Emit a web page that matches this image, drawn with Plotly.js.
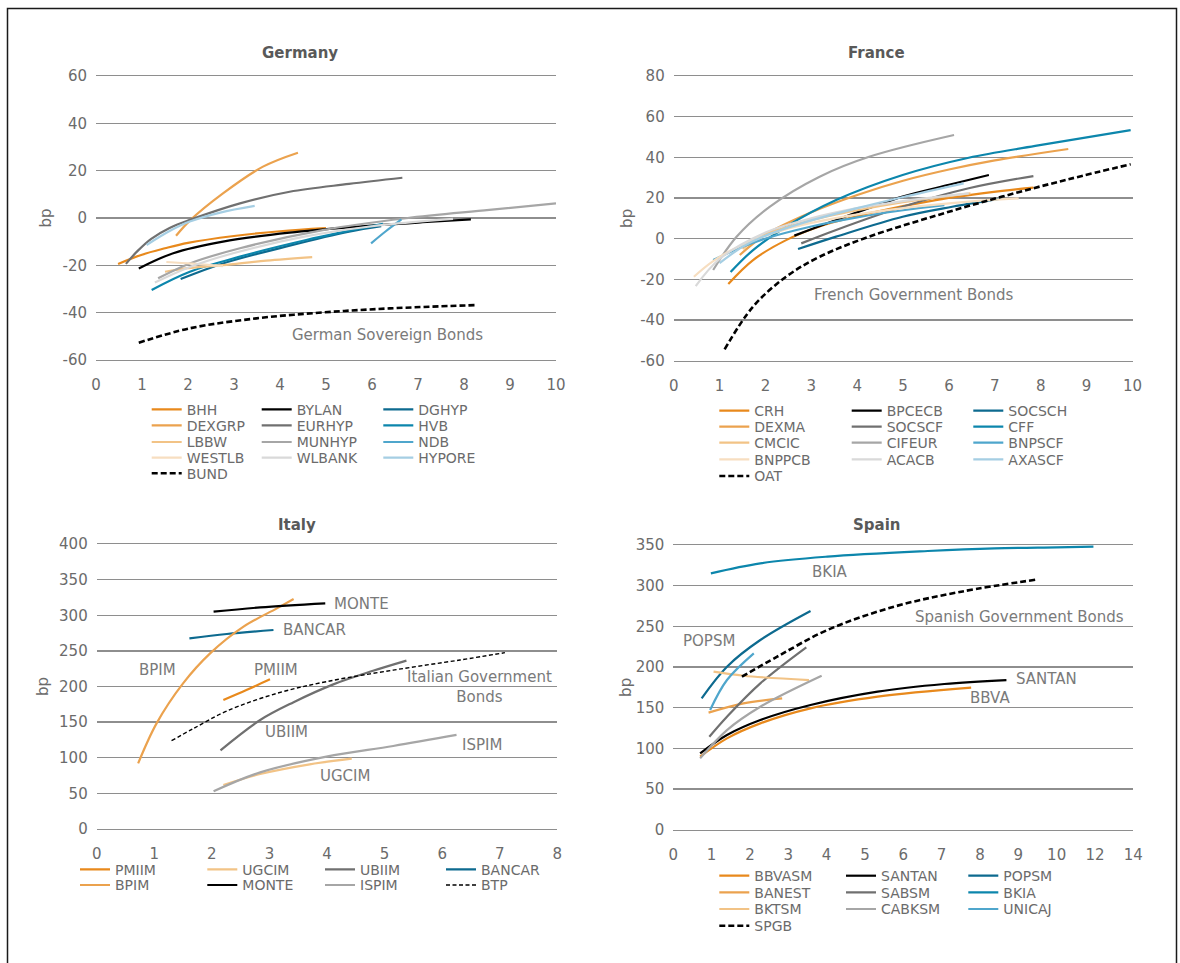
<!DOCTYPE html>
<html>
<head>
<meta charset="utf-8">
<script src="https://cdn.plot.ly/plotly-3.0.1.min.js"></script>
<style>
  html, body { margin: 0; padding: 0; background: #ffffff; }
  #chart { width: 1180px; height: 963px; }
</style>
</head>
<body>
<div id="chart"></div>
<script>
// ---------------- DATA ----------------
// Germany (x: maturity in years, y: spread in bp)
const germanyNames = ['BHH','BYLAN','DGHYP','DEXGRP','EURHYP','HVB','LBBW','MUNHYP','NDB','WESTLB','WLBANK','HYPORE','BUND'];
const germanyX = [
  [0.48, 1.0, 1.5, 2.0, 3.0, 4.0, 5.0],
  [0.93, 1.68, 2.76, 4.21, 5.66, 7.1, 8.15],
  [1.84, 2.76, 4.21, 5.5, 6.2],
  [1.74, 2.04, 2.76, 3.63, 4.39],
  [0.65, 0.9, 1.2, 1.6, 2.04, 3.13, 4.21, 5.5, 6.66],
  [1.21, 2.04, 3.13, 4.57, 6.24],
  [1.5, 2.0, 2.76, 3.7, 4.7],
  [1.35, 2.04, 3.13, 4.93, 6.74, 8.55, 10.0],
  [5.98, 6.3, 6.64],
  [1.53, 2.1, 2.76],
  [1.28, 2.0, 3.0, 4.5, 6.0, 7.76],
  [1.10, 1.6, 2.04, 2.7, 3.45],
  [0.93, 2.04, 3.49, 4.93, 6.38, 8.26]
];
const germanyY = [
  [-19.4, -15.5, -12.8, -10.5, -7.6, -5.6, -4.3],
  [-21.3, -14.9, -10.0, -6.2, -3.7, -1.8, -0.6],
  [-25.8, -19.2, -11.7, -5.8, -3.5],
  [-7.5, -1.1, 10.4, 21.7, 27.6],
  [-19.4, -14.0, -8.8, -4.2, -0.8, 6.2, 11.1, 14.4, 17.0],
  [-30.4, -22.7, -16.3, -9.3, -2.5],
  [-22.7, -21.2, -19.9, -18.0, -16.5],
  [-25.5, -19.2, -12.8, -5.1, -0.1, 3.4, 6.2],
  [-10.7, -5.6, -0.6],
  [-18.6, -19.3, -20.3],
  [-27.3, -21.0, -14.8, -8.0, -3.5, -0.4],
  [-11.4, -5.5, -1.5, 2.3, 5.1],
  [-52.7, -46.6, -42.4, -39.9, -38.2, -36.8]
];
const germanyTicksY = [-60, -40, -20, 0, 20, 40, 60];
const germanyTicksX = [0, 1, 2, 3, 4, 5, 6, 7, 8, 9, 10];

// France
const franceNames = ['CRH','BPCECB','SOCSCH','DEXMA','SOCSCF','CFF','CMCIC','CIFEUR','BNPSCF','BNPPCB','ACACB','AXASCF','OAT'];
const franceX = [
  [1.19, 1.73, 2.45, 3.18, 4.26, 5.71, 7.16, 7.84],
  [2.63, 3.54, 4.99, 6.0, 6.87],
  [2.71, 3.54, 4.99, 6.07, 7.16],
  [1.44, 2.0, 3.0, 4.0, 5.0, 6.0, 7.0, 8.6],
  [2.78, 3.54, 4.99, 6.43, 7.84],
  [1.24, 1.73, 2.45, 3.54, 4.99, 6.43, 7.88, 9.96],
  [1.5, 2.0, 3.0, 4.0, 5.0, 6.47],
  [0.86, 1.37, 2.09, 3.18, 4.26, 6.11],
  [0.86, 1.5, 2.02, 3.0, 4.0, 5.0, 5.9],
  [0.44, 0.86, 1.5, 2.5, 3.5, 5.0, 6.5, 7.52],
  [0.48, 1.0, 2.0, 3.0, 4.0, 5.0, 6.43],
  [1.0, 1.5, 2.0, 3.0, 4.0, 5.0, 6.32],
  [1.11, 1.73, 2.45, 3.18, 4.26, 5.71, 7.16, 8.6, 9.96]
];
const franceY = [
  [-22.3, -10.5, -0.7, 6.0, 12.5, 19.0, 23.5, 25.1],
  [1.5, 9.2, 20.7, 26.5, 31.3],
  [-5.1, 1.0, 10.8, 15.7, 19.8],
  [-8.0, 2.0, 13.0, 21.5, 28.5, 34.0, 38.5, 44.1],
  [-2.3, 4.3, 15.7, 24.8, 30.8],
  [-16.4, -5.6, 5.9, 19.0, 31.3, 39.8, 45.6, 53.4],
  [-5.0, 2.0, 9.0, 14.0, 18.0, 22.3],
  [-15.4, 1.0, 15.7, 30.5, 40.3, 51.0],
  [-10.5, -4.0, 0.2, 6.0, 10.5, 14.0, 16.5],
  [-18.7, -11.0, -3.0, 5.0, 10.0, 15.0, 18.3, 19.8],
  [-23.3, -10.0, 3.0, 10.0, 15.0, 18.5, 22.3],
  [-12.0, -4.0, 1.5, 9.0, 15.0, 20.5, 27.2],
  [-54.4, -33.4, -18.7, -8.9, 1.0, 11.3, 20.7, 29.2, 36.6]
];
const franceTicksY = [-60, -40, -20, 0, 20, 40, 60, 80];
const franceTicksX = [0, 1, 2, 3, 4, 5, 6, 7, 8, 9, 10];

// Italy
const italyNames = ['PMIIM','UGCIM','UBIIM','BANCAR','BPIM','MONTE','ISPIM','BTP'];
const italyX = [
  [2.2, 2.6, 3.01],
  [2.2, 2.84, 3.7, 4.43],
  [2.15, 2.84, 3.42, 4.11, 4.8, 5.38],
  [1.61, 2.26, 3.07],
  [0.72, 1.04, 1.5, 1.97, 2.55, 3.13, 3.42],
  [2.03, 2.84, 3.97],
  [2.03, 2.84, 3.99, 5.15, 6.25],
  [1.3, 1.68, 2.26, 3.13, 3.99, 5.15, 6.31, 7.09]
];
const italyY = [
  [181, 195, 210],
  [61.8, 77.2, 90.8, 98.7],
  [110.4, 153, 178, 203, 222, 236.3],
  [267.6, 273.7, 279.3],
  [92.2, 148.3, 204.4, 246.5, 284, 309.7, 322.8],
  [305, 311, 316.7],
  [52.9, 79.5, 101.5, 116.5, 132],
  [124, 141, 165.6, 190.4, 206.8, 223, 237.2, 247.5]
];
const italyTicksY = [0, 50, 100, 150, 200, 250, 300, 350, 400];
const italyTicksX = [0, 1, 2, 3, 4, 5, 6, 7, 8];

// Spain (x: maturity in years; the axis shows 0..10 then 12, 14 at equal steps)
const spainNames = ['BBVASM','SANTAN','POPSM','BANEST','SABSM','BKIA','BKTSM','CABKSM','UNICAJ','SPGB'];
const spainX = [
  [0.70, 1.40, 2.27, 3.58, 5.33, 7.77],
  [0.70, 1.40, 2.27, 3.58, 5.33, 7.07, 8.69],
  [0.74, 1.40, 2.27, 3.58],
  [0.92, 1.83, 2.84],
  [0.94, 1.40, 2.27, 3.47],
  [0.98, 2.27, 4.02, 6.64, 8.38, 10.0, 11.92],
  [1.05, 1.83, 3.54],
  [0.70, 1.40, 2.27, 3.87],
  [0.96, 1.40, 2.10],
  [1.79, 2.71, 4.02, 5.76, 7.51, 9.52]
];
const spainY = [
  [89.8, 112.3, 130.7, 149.2, 163.5, 174.6],
  [93.9, 116.4, 134.8, 153.3, 169.7, 179.1, 184],
  [161.5, 200.4, 233.2, 268.9],
  [143.9, 155.3, 161.5],
  [114.3, 138.9, 179.9, 224.2],
  [315.2, 327.5, 335.7, 342.6, 345.9, 347.2, 348],
  [194.3, 189.3, 184],
  [87.7, 122.5, 151.2, 189.3],
  [147.1, 184, 216.8],
  [188.1, 212.7, 245.5, 274.2, 292.6, 307.8]
];
const spainTicksY = [0, 50, 100, 150, 200, 250, 300, 350];
const spainTickLabelsX = ['0','1','2','3','4','5','6','7','8','9','10','12','14'];

// Text labels on the charts
const germanyLabels = ['German Sovereign Bonds'];
const franceLabels = ['French Government Bonds'];
const italyLabels = ['MONTE','BANCAR','BPIM','PMIIM','Italian Government<br>Bonds','UBIIM','ISPIM','UGCIM'];
const spainLabels = ['BKIA','Spanish Government Bonds','POPSM','SANTAN','BBVA'];

// ---------------- STYLES ----------------
const C = {
  o1: '#E8891C', o2: '#EBA24E', o3: '#F2C386', o4: '#F7DEC0',
  k: '#000000', g1: '#707070', g2: '#A6A6A6', g3: '#D9D9D9',
  b1: '#0D6A8F', b2: '#0C86AC', b3: '#4FA6CC', b4: '#A5CEE3'
};
const germanyColors = [C.o1, C.k, C.b1, C.o2, C.g1, C.b2, C.o3, C.g2, C.b3, C.o4, C.g3, C.b4, C.k];
const germanyDash   = [0,0,0,0,0,0,0,0,0,0,0,0,1];
const franceColors  = [C.o1, C.k, C.b1, C.o2, C.g1, C.b2, C.o3, C.g2, C.b3, C.o4, C.g3, C.b4, C.k];
const franceDash    = [0,0,0,0,0,0,0,0,0,0,0,0,1];
const italyColors   = [C.o1, C.o3, C.g1, C.b1, C.o2, C.k, C.g2, C.k];
const italyDash     = [0,0,0,0,0,0,0,2];
const spainColors   = [C.o1, C.k, C.b1, C.o2, C.g1, C.b2, C.o3, C.g2, C.b3, C.k];
const spainDash     = [0,0,0,0,0,0,0,0,0,1];

const W = 1180, H = 963;
const FONT = 'DejaVu Sans, Verdana, sans-serif';
const TXT = '#6b6b6b';
const GRID = '#8e8e8e';
const LEGFS = 14;

function px2x(p) { return p / W; }
function py2y(p) { return 1 - p / H; }
function spainPos(v) { return v <= 10 ? v : 10 + (v - 10) / 2; }

// panel geometry (pixels)
const panels = [
  { key: 'germany', names: germanyNames, X: germanyX, Y: germanyY, colors: germanyColors, dash: germanyDash,
    xa: 'x', ya: 'y', xd: [96, 556], yd: [76, 360], xr: [0, 10], yr: [-60, 60], yt: germanyTicksY, xt: germanyTicksX,
    title: 'Germany', titlePos: [300, 53], standoff: 7,
    legCols: [186.7, 296.7, 418.3], legRows: [409.3, 425.3, 442, 457.7, 473.3], ncol: 3 },
  { key: 'france', names: franceNames, X: franceX, Y: franceY, colors: franceColors, dash: franceDash,
    xa: 'x2', ya: 'y2', xd: [673.7, 1132.5], yd: [76, 360.7], xr: [0, 10], yr: [-60, 80], yt: franceTicksY, xt: franceTicksX,
    title: 'France', titlePos: [876, 53], standoff: 3,
    legCols: [754.3, 886.7, 1008.3], legRows: [410.7, 426.7, 442.7, 459.3, 476], ncol: 3 },
  { key: 'italy', names: italyNames, X: italyX, Y: italyY, colors: italyColors, dash: italyDash,
    xa: 'x3', ya: 'y3', xd: [96.7, 557.3], yd: [544, 829], xr: [0, 8], yr: [0, 400], yt: italyTicksY, xt: italyTicksX,
    title: 'Italy', titlePos: [297, 525], standoff: 6,
    legCols: [115, 242.3, 360, 481], legRows: [869.3, 885], ncol: 4 },
  { key: 'spain', names: spainNames, X: spainX.map(a => a.map(spainPos)), Y: spainY, colors: spainColors, dash: spainDash,
    xa: 'x4', ya: 'y4', xd: [673.3, 1133.3], yd: [545, 829.7], xr: [0, 12], yr: [0, 350], yt: spainTicksY,
    xt: spainTickLabelsX.map((t, i) => i), xtt: spainTickLabelsX,
    title: 'Spain', titlePos: [876, 525], standoff: 0,
    legCols: [754.3, 881, 1003.3], legRows: [875.7, 892.3, 909, 925.7], ncol: 3 }
];

const dashStyles = ['solid', '6px,3px', '4px,2.5px'];
const traces = [];
const layout = {
  width: W, height: H, autosize: false,
  margin: { l: 0, r: 0, t: 0, b: 0 },
  paper_bgcolor: '#ffffff', plot_bgcolor: 'rgba(0,0,0,0)',
  font: { family: FONT, size: 15, color: TXT },
  showlegend: true,
  annotations: [],
  shapes: [{
    type: 'rect', xref: 'paper', yref: 'paper',
    x0: px2x(7.5), x1: px2x(1176.5), y0: py2y(1000), y1: py2y(8.5),
    line: { color: '#1a1a1a', width: 1.5 }, fillcolor: 'rgba(0,0,0,0)', layer: 'above'
  }]
};

const legItemOffset = (Math.max(1.3 * LEGFS, 16) + 3) / 2 + 5;
let legendCount = 0;
panels.forEach(p => {
  const xName = p.xa === 'x' ? 'xaxis' : 'xaxis' + p.xa.slice(1);
  const yName = p.ya === 'y' ? 'yaxis' : 'yaxis' + p.ya.slice(1);
  layout[xName] = {
    domain: [px2x(p.xd[0]), px2x(p.xd[1])], range: p.xr, anchor: p.ya,
    showgrid: false, zeroline: false,
    showline: true, mirror: true, linecolor: GRID, linewidth: 1.3,
    ticks: '',
    tickmode: 'array', tickvals: p.xt, ticktext: p.xtt || p.xt.map(String),
    tickfont: { family: FONT, size: 15, color: TXT }, ticklabelstandoff: 11, fixedrange: true
  };
  layout[yName] = {
    domain: [py2y(p.yd[1]), py2y(p.yd[0])], range: p.yr, anchor: p.xa,
    showgrid: true, gridcolor: GRID, gridwidth: 1.3, zeroline: false, showline: false, ticks: '',
    tickmode: 'array', tickvals: p.yt, ticktext: p.yt.map(String),
    tickfont: { family: FONT, size: 15, color: TXT }, ticklabelstandoff: 8, fixedrange: true,
    title: { text: 'bp', font: { family: FONT, size: 15, color: TXT }, standoff: p.standoff }
  };
  layout.annotations.push({
    xref: 'paper', yref: 'paper', x: px2x(p.titlePos[0]), y: py2y(p.titlePos[1]),
    text: '<b>' + p.title + '</b>', showarrow: false, xanchor: 'center', yanchor: 'middle',
    font: { family: FONT, size: 15, color: '#595959' }
  });
  p.names.forEach((n, i) => {
    legendCount += 1;
    const lid = legendCount === 1 ? 'legend' : 'legend' + legendCount;
    const row = Math.floor(i / p.ncol), col = i % p.ncol;
    const textStart = p.legCols[col];
    const rowCenter = p.legRows[row];
    layout[lid] = {
      x: px2x(textStart - 40), y: py2y(rowCenter - legItemOffset), xanchor: 'left', yanchor: 'top',
      bgcolor: 'rgba(0,0,0,0)', borderwidth: 0, itemwidth: 30,
      font: { family: FONT, size: LEGFS, color: TXT }, orientation: 'v'
    };
    traces.push({
      type: 'scatter', mode: 'lines', name: n, legend: lid,
      x: p.X[i], y: p.Y[i], xaxis: p.xa, yaxis: p.ya,
      line: { color: p.colors[i], width: p.dash[i] === 2 ? 1.4 : (p.dash[i] === 1 ? 2.6 : 2.2),
              dash: dashStyles[p.dash[i]], shape: 'spline', smoothing: 1 },
      hoverinfo: 'name+x+y', showlegend: true
    });
  });
});

// chart labels (in data coordinates)
const labelFont = { family: FONT, size: 15, color: '#7a7a7a' };
function addLabel(text, xref, yref, x, y, anchor) {
  layout.annotations.push({ xref: xref, yref: yref, x: x, y: y, text: text, showarrow: false,
    xanchor: anchor || 'center', yanchor: 'middle', font: labelFont, align: 'center' });
}
addLabel(germanyLabels[0], 'x', 'y', 6.33, -49.6);
addLabel(franceLabels[0], 'x2', 'y2', 5.22, -27.8);
const italyLabelPos = [[4.6, 315.8], [3.79, 279.3], [1.06, 223.2], [3.11, 223.2], [6.65, 199.8], [3.3, 136.6], [6.69, 117.9], [4.31, 74.4]];
italyLabels.forEach((t, i) => addLabel(t, 'x3', 'y3', italyLabelPos[i][0], italyLabelPos[i][1]));
const spainLabelPos = [[4.09, 317.2], [9.04, 261.9], [0.92, 232], [9.74, 184.8], [8.27, 161.5]];
spainLabels.forEach((t, i) => addLabel(t, 'x4', 'y4', spainLabelPos[i][0], spainLabelPos[i][1]));

Plotly.newPlot('chart', traces, layout, { displayModeBar: false, staticPlot: true });
</script>
</body>
</html>
